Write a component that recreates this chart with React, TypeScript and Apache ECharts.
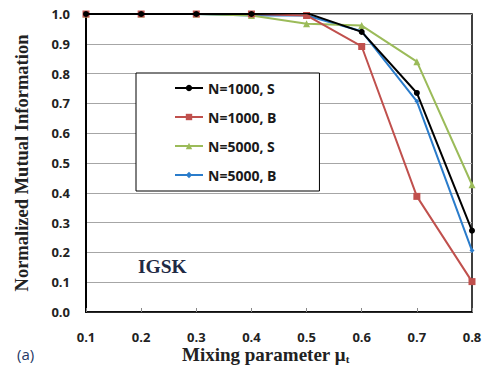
import React, { useEffect, useRef } from "react";
import * as echarts from "echarts";

const categories = ["0.1", "0.2", "0.3", "0.4", "0.5", "0.6", "0.7", "0.8"];
const seriesNames = ["N=1000, S", "N=1000, B", "N=5000, S", "N=5000, B"];
const n1000S = [1.0, 1.0, 1.0, 1.0, 1.003, 0.94, 0.735, 0.273];
const n1000B = [1.0, 1.0, 1.0, 1.0, 0.995, 0.891, 0.388, 0.102];
const n5000S = [1.0, 1.0, 1.0, 0.995, 0.967, 0.961, 0.84, 0.427];
const n5000B = [1.0, 1.0, 1.0, 0.995, 0.995, 0.942, 0.707, 0.206];

const colors = ["#000000", "#c0504d", "#9bbb59", "#2a7ccb"];
const symbols = ["circle", "rect", "triangle", "diamond"];
const symbolSizes = [6, 7, 7, 5];

export default function App() {
  const ref = useRef<HTMLDivElement>(null);
  useEffect(() => {
    if (!ref.current) return;
    document.body.style.margin = "0";
    const chart = echarts.init(ref.current, null, { renderer: "svg" });
    const data = [n1000S, n1000B, n5000S, n5000B];
    chart.setOption({
      animation: false,
      backgroundColor: "#ffffff",
      grid: {
        left: 86,
        right: 15,
        top: 14,
        bottom: 59,
        show: true,
        borderColor: "#000",
        borderWidth: 1.5,
      },
      legend: {
        orient: "vertical",
        left: 136,
        top: 73,
        padding: [8, 43, 9, 38],
        itemGap: 15,
        itemWidth: 28,
        itemHeight: 8,
        borderColor: "#000",
        borderWidth: 1,
        backgroundColor: "#fff",
        textStyle: {
          fontFamily: "Open Sans",
          fontWeight: "bold",
          fontSize: 14,
          color: "#1a1a1a",
        },
        data: seriesNames,
      },
      xAxis: {
        type: "category",
        data: categories,
        boundaryGap: false,
        axisLine: { lineStyle: { color: "#000", width: 1.5 } },
        axisTick: { inside: true, length: 4, lineStyle: { color: "#888" } },
        axisLabel: {
          margin: 18,
          fontFamily: "Open Sans",
          fontWeight: "bold",
          fontSize: 13,
          color: "#222",
        },
        splitLine: { show: false },
      },
      yAxis: {
        type: "value",
        min: 0,
        max: 1,
        interval: 0.1,
        name: "Normalized Mutual Information",
        nameLocation: "middle",
        nameGap: 55,
        nameTextStyle: {
          fontFamily: "Liberation Serif",
          fontWeight: "bold",
          fontSize: 18.5,
          color: "#222",
        },
        axisLine: { show: true, lineStyle: { color: "#000", width: 2 } },
        axisTick: { show: false },
        axisLabel: {
          margin: 16,
          fontFamily: "Open Sans",
          fontWeight: "bold",
          fontSize: 13,
          color: "#222",
          formatter: (v: number) => v.toFixed(1),
        },
        splitLine: { lineStyle: { color: "#a6a6a6", width: 1.2 } },
      },
      graphic: [
        {
          type: "text",
          left: 182,
          top: 345,
          style: {
            text: "{a|Mixing parameter μ}{b|t}",
            rich: {
              a: {
                fontFamily: "Liberation Serif",
                fontWeight: "bold",
                fontSize: 19,
                fill: "#222",
              },
              b: {
                fontFamily: "Liberation Serif",
                fontWeight: "bold",
                fontSize: 11,
                fill: "#222",
                padding: [9, 0, 0, 0],
              },
            },
          },
        },
        {
          type: "text",
          left: 17,
          top: 346,
          style: {
            text: "(a)",
            fontFamily: "Open Sans",
            fontSize: 15,
            fill: "#1f3864",
          },
        },
        {
          type: "text",
          left: 138,
          top: 256,
          style: {
            text: "IGSK",
            fontFamily: "Liberation Serif",
            fontWeight: "bold",
            fontSize: 19.5,
            fill: "#1f2a44",
          },
        },
      ],
      series: seriesNames.map((name, i) => ({
        name,
        type: "line",
        data: data[i],
        symbol: symbols[i],
        symbolSize: symbolSizes[i],
        showSymbol: true,
        z: 10 - i,
        lineStyle: { color: colors[i], width: 2 },
        itemStyle: { color: colors[i] },
      })),
    });
    return () => chart.dispose();
  }, []);
  return <div ref={ref} style={{ width: 487, height: 371 }} />;
}
